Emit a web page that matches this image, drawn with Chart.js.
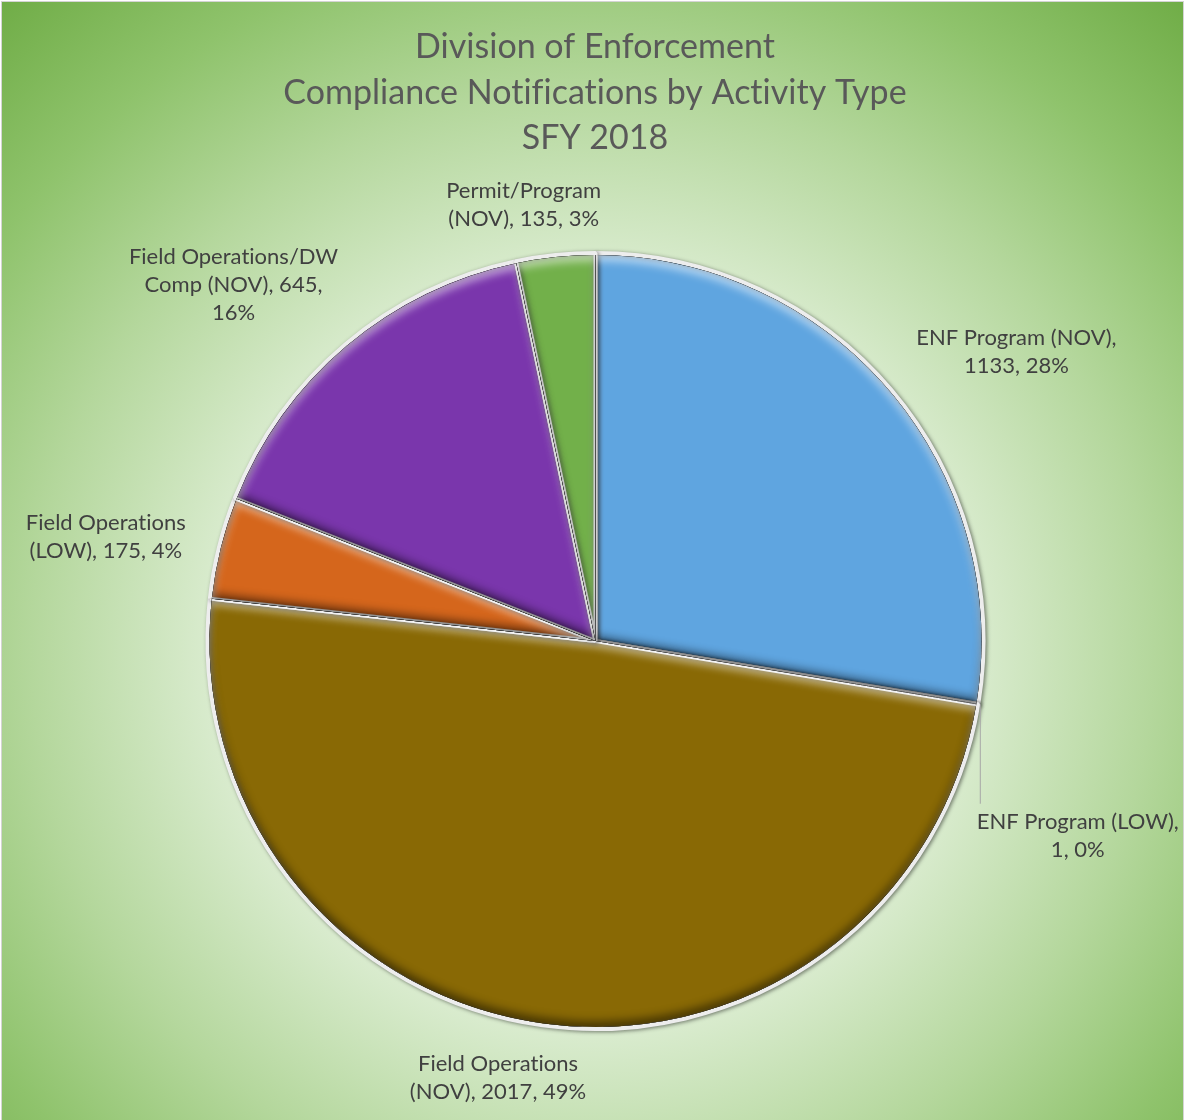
<!DOCTYPE html>
<html>
<head>
<meta charset="utf-8">
<title>Compliance Notifications by Activity Type</title>
<script src="https://cdn.jsdelivr.net/npm/chart.js@4.4.0/dist/chart.umd.min.js"></script>
<style>
  html, body { margin: 0; padding: 0; background: #fff; overflow: hidden; }
  #wrap {
    position: absolute; left: 1px; top: 1px;
    width: 1183px; height: 1140px;
    box-sizing: border-box;
    border: 1px solid #d4d4d4;
    background: radial-gradient(circle farthest-corner at 50% 57%,
      #ffffff 0%, #f0f7ec 22%, #dcedd2 42%, #b4d79c 64%, #8fc36c 82%, #70ad47 100%);
  }
  #box { position: relative; width: 1181px; height: 1118px; }
</style>
</head>
<body>
<div id="wrap"><div id="box"><canvas id="chart"></canvas></div></div>
<script>
// SFY 2018 compliance notifications, clockwise from 12 o'clock
const categories = [
  'ENF Program (NOV)',
  'ENF Program (LOW)',
  'Field Operations (NOV)',
  'Field Operations (LOW)',
  'Field Operations/DW Comp (NOV)',
  'Permit/Program (NOV)'
];
const counts = [1133, 1, 2017, 175, 645, 135];
const sliceColors = ['#5fa5e0', '#a5a5a5', '#896905', '#d5661c', '#7a36ac', '#72b04a'];
const titleLines = ['Division of Enforcement', 'Compliance Notifications by Activity Type', 'SFY 2018'];

// word index where each label wraps onto a new line
const labelBreaks = [[3], [3], [2], [2], [2, 5], [1]];
// small hand tweaks so labels sit where the original layout put them
const labelNudge = [[35, -8], [-18, 124], [-30, 7], [-18, 0], [-33, -13], [-22, -4]];

const FONT = 'Lato, "Open Sans", sans-serif';
const total = counts.reduce((a, b) => a + b, 0);

function labelText(i) {
  const pct = Math.round(counts[i] / total * 100);
  const words = `${categories[i]}, ${counts[i]}, ${pct}%`.split(' ');
  const lines = [];
  let start = 0;
  labelBreaks[i].concat(words.length).forEach(b => {
    lines.push(words.slice(start, b).join(' '));
    start = b;
  });
  return lines;
}

function slicePath(ctx, a) {
  ctx.beginPath();
  ctx.moveTo(a.x, a.y);
  ctx.arc(a.x, a.y, a.outerRadius, a.startAngle, a.endAngle);
  ctx.closePath();
}

// soft inner shadow along the slice edges for a bevelled look
function innerShadow(ctx, a, color, dy, blur) {
  ctx.save();
  slicePath(ctx, a);
  ctx.clip();
  ctx.beginPath();
  ctx.rect(-4000, -4000, 8000, 8000);
  ctx.moveTo(a.x, a.y);
  ctx.arc(a.x, a.y, a.outerRadius, a.startAngle, a.endAngle);
  ctx.closePath();
  ctx.shadowColor = color;
  ctx.shadowBlur = blur;
  ctx.shadowOffsetY = dy;
  ctx.fillStyle = '#000';
  ctx.fill('evenodd');
  ctx.restore();
}

const pieStyle = {
  id: 'pieStyle',
  beforeDatasetDraw(chart) {
    const ctx = chart.ctx;
    ctx.save();
    ctx.shadowColor = 'rgba(0,0,0,0.4)';
    ctx.shadowBlur = 4;
    ctx.shadowOffsetX = 1.5;
    ctx.shadowOffsetY = 1;
  },
  afterDatasetDraw(chart) {
    const ctx = chart.ctx;
    ctx.restore();
    chart.getDatasetMeta(0).data.forEach(arc => {
      const a = arc.getProps(['x', 'y', 'startAngle', 'endAngle', 'outerRadius'], true);
      if (a.endAngle - a.startAngle < 0.01) return;
      const inner = { ...a, outerRadius: a.outerRadius - 2 };
      innerShadow(ctx, inner, 'rgba(0,0,0,0.45)', -6, 9);
      innerShadow(ctx, inner, 'rgba(255,255,255,0.55)', 6, 9);
    });
  },
  afterDraw(chart) {
    const ctx = chart.ctx;
    ctx.save();
    ctx.textAlign = 'center';
    ctx.textBaseline = 'alphabetic';
    // keeps "ti" / "fi" from turning into ligatures
    ctx.letterSpacing = '0.01px';

    // title
    ctx.fillStyle = '#595959';
    ctx.font = `34px ${FONT}`;
    titleLines.forEach((t, i) => ctx.fillText(t, 593, 56 + i * 45.5));

    // data labels outside the pie
    ctx.font = `22px ${FONT}`;
    ctx.textBaseline = 'middle';
    const lh = 28;
    chart.getDatasetMeta(0).data.forEach((arc, i) => {
      const a = arc.getProps(['x', 'y', 'startAngle', 'endAngle', 'outerRadius'], true);
      const mid = (a.startAngle + a.endAngle) / 2;
      const ux = Math.cos(mid), uy = Math.sin(mid);
      const lines = labelText(i);
      const w = Math.max(...lines.map(l => ctx.measureText(l).width));
      const h = lines.length * lh;
      const gap = 18;
      const cx = a.x + (a.outerRadius + gap) * ux + ux * w / 2 + labelNudge[i][0];
      const cy = a.y + (a.outerRadius + gap) * uy + uy * h / 2 + labelNudge[i][1];

      if (counts[i] / total < 0.01) {
        // leader line for the sliver
        const px = a.x + (a.outerRadius + 2) * ux;
        const py = a.y + (a.outerRadius + 2) * uy;
        ctx.strokeStyle = '#a6a6a6';
        ctx.lineWidth = 1;
        ctx.beginPath();
        ctx.moveTo(px, py);
        ctx.lineTo(px, cy - h / 2 - 4);
        ctx.stroke();
      }

      ctx.fillStyle = '#404040';
      lines.forEach((l, k) => ctx.fillText(l, cx, cy - h / 2 + lh / 2 + k * lh));
    });
    ctx.restore();
  }
};

new Chart(document.getElementById('chart'), {
  type: 'pie',
  data: {
    labels: categories,
    datasets: [{
      data: counts,
      backgroundColor: sliceColors,
      borderColor: '#ededed',
      borderWidth: 4,
      clip: false
    }]
  },
  options: {
    responsive: true,
    maintainAspectRatio: false,
    animation: false,
    layout: { padding: { left: 203, right: 197, top: 249, bottom: 89 } },
    plugins: {
      legend: { display: false },
      title: { display: false },
      tooltip: { enabled: false }
    }
  },
  plugins: [pieStyle]
});
</script>
</body>
</html>
